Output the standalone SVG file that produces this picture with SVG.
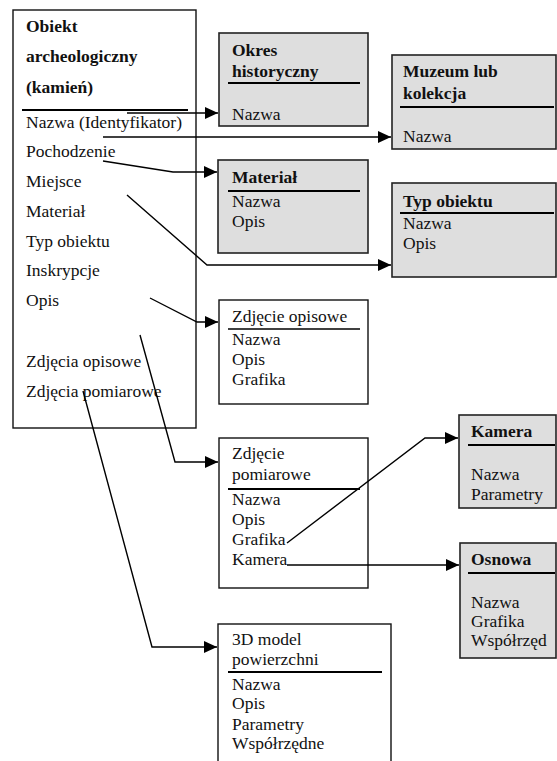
<svg xmlns="http://www.w3.org/2000/svg" width="557" height="761" viewBox="0 0 557 761">
<style>
text{font-family:"Liberation Serif","Times New Roman",serif;font-size:17.5px;fill:#111}
.b{font-weight:bold}
.box{fill:#fff;stroke:#111;stroke-width:1.4}
.g{fill:#dedede;stroke:#222;stroke-width:1.6}
.sep{stroke:#000;stroke-width:2}
.c{fill:none;stroke:#000;stroke-width:1.4}
</style>
<defs>
<marker id="ah" markerUnits="userSpaceOnUse" markerWidth="14" markerHeight="14" viewBox="0 0 14 14" refX="13" refY="7" orient="auto">
<path d="M0,1 L13,7 L0,13 z" fill="#000"/>
</marker>
</defs>
<rect width="557" height="761" fill="#fff"/>
<g id="obiekt">
<rect class="box" x="13" y="10" width="183" height="418"/>
<text class="b" x="26" y="32">Obiekt</text>
<text class="b" x="26" y="62">archeologiczny</text>
<text class="b" x="26" y="93">(kamień)</text>
<line class="sep" x1="22" y1="110" x2="188" y2="110"/>
<text x="26" y="128">Nazwa (Identyfikator)</text>
<text x="26" y="157">Pochodzenie</text>
<text x="26" y="187">Miejsce</text>
<text x="26" y="217">Materiał</text>
<text x="26" y="247">Typ obiektu</text>
<text x="26" y="276">Inskrypcje</text>
<text x="26" y="306">Opis</text>
<text x="26" y="367">Zdjęcia opisowe</text>
<text x="26" y="397">Zdjęcia pomiarowe</text>
</g>
<g id="okres">
<rect class="g" x="219" y="33" width="149" height="93"/>
<text class="b" x="232" y="56">Okres</text>
<text class="b" x="232" y="77">historyczny</text>
<line class="sep" x1="228" y1="83" x2="360" y2="83"/>
<text x="232" y="120">Nazwa</text>
</g>
<g id="muzeum">
<rect class="g" x="392" y="55" width="164" height="94"/>
<text class="b" x="403" y="77">Muzeum lub</text>
<text class="b" x="403" y="99">kolekcja</text>
<line class="sep" x1="400" y1="107" x2="554" y2="107"/>
<text x="403" y="142">Nazwa</text>
</g>
<g id="material">
<rect class="g" x="218" y="160" width="150" height="93"/>
<text class="b" x="232" y="183">Materiał</text>
<line class="sep" x1="228" y1="191" x2="360" y2="191"/>
<text x="232" y="207">Nazwa</text>
<text x="232" y="227">Opis</text>
</g>
<g id="typ">
<rect class="g" x="392" y="183" width="164" height="94"/>
<text class="b" x="403" y="207">Typ obiektu</text>
<line class="sep" x1="400" y1="213" x2="554" y2="213"/>
<text x="403" y="229">Nazwa</text>
<text x="403" y="249">Opis</text>
</g>
<g id="zdjecie-opisowe">
<rect class="box" x="219" y="300" width="149" height="104"/>
<text x="232" y="322">Zdjęcie opisowe</text>
<line class="c" x1="228" y1="329" x2="360" y2="329"/>
<text x="232" y="345">Nazwa</text>
<text x="232" y="365">Opis</text>
<text x="232" y="385">Grafika</text>
</g>
<g id="zdjecie-pomiarowe">
<rect class="box" x="219" y="438" width="149" height="150"/>
<text x="232" y="459">Zdjęcie</text>
<text x="232" y="480">pomiarowe</text>
<line class="sep" x1="228" y1="489" x2="360" y2="489"/>
<text x="232" y="505">Nazwa</text>
<text x="232" y="525">Opis</text>
<text x="232" y="545">Grafika</text>
<text x="232" y="565">Kamera</text>
</g>
<g id="kamera">
<rect class="g" x="459" y="415" width="97" height="93"/>
<text class="b" x="471" y="437">Kamera</text>
<line class="sep" x1="468" y1="445" x2="555" y2="445"/>
<text x="471" y="480">Nazwa</text>
<text x="471" y="500">Parametry</text>
</g>
<g id="osnowa">
<rect class="g" x="460" y="543" width="96" height="115"/>
<text class="b" x="471" y="565">Osnowa</text>
<line class="sep" x1="468" y1="573" x2="555" y2="573"/>
<text x="471" y="608">Nazwa</text>
<text x="471" y="627">Grafika</text>
<text x="471" y="646">Współrzęd</text>
</g>
<g id="model3d">
<rect class="box" x="218" y="624" width="173" height="150"/>
<text x="232" y="645">3D model</text>
<text x="232" y="665">powierzchni</text>
<line class="sep" x1="228" y1="672" x2="382" y2="672"/>
<text x="232" y="690">Nazwa</text>
<text x="232" y="709">Opis</text>
<text x="232" y="730">Parametry</text>
<text x="232" y="749">Współrzędne</text>
</g>
<g id="connectors">
<polyline class="c" points="127,113 218,113" marker-end="url(#ah)"/>
<polyline class="c" points="103,137 391,137" marker-end="url(#ah)"/>
<polyline class="c" points="103,161 173,172 217,172" marker-end="url(#ah)"/>
<polyline class="c" points="127,195 207,265 391,265" marker-end="url(#ah)"/>
<polyline class="c" points="150,298 197,322 218,322" marker-end="url(#ah)"/>
<polyline class="c" points="140,335 175,462 218,462" marker-end="url(#ah)"/>
<polyline class="c" points="83,391 152,647 217,647" marker-end="url(#ah)"/>
<polyline class="c" points="287,543 425,438 458,438" marker-end="url(#ah)"/>
<polyline class="c" points="287,565 459,565" marker-end="url(#ah)"/>
</g>
</svg>
